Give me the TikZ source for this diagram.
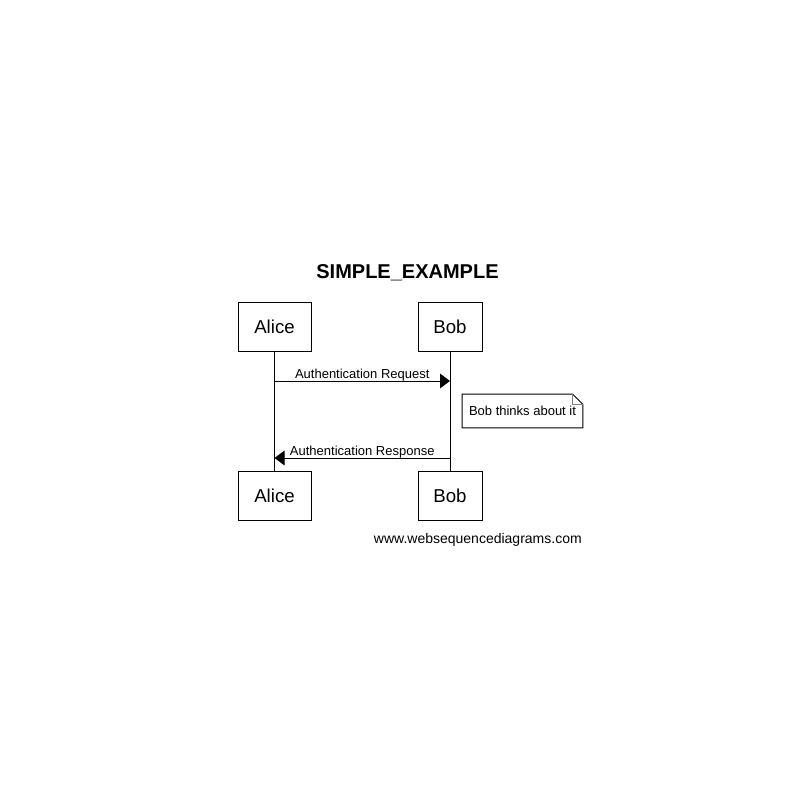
\documentclass[tikz,border=0pt]{standalone}
\usepackage{fontspec}
\setmainfont{Liberation Sans}
\usetikzlibrary{arrows.meta}
\tikzset{
  actor/.style={draw,line width=0.75pt,inner sep=0pt,minimum height=36.75pt,font=\fontsize{14}{16}\selectfont},
  msg/.style={line width=0.75pt,-{Triangle[length=7.5pt,width=11pt]}},
  msglabel/.style={anchor=south,inner sep=0pt,yshift=-0.5pt,font=\fontsize{9.75}{11}\selectfont},
  notebox/.style={inner sep=0pt,minimum width=90pt,minimum height=24.75pt,font=\fontsize{9.75}{11}\selectfont}
}
\begin{document}
\begin{tikzpicture}[line cap=butt,line join=miter,x=0.75pt,y=-0.75pt]
    \useasboundingbox (0,0) rectangle (800,800);
    \node[anchor=base,font=\bfseries\fontsize{15}{18}\selectfont] (title) at (407.5,278) {SIMPLE\_EXAMPLE};
    \node[actor,minimum width=54.75pt] (aliceTop) at (274.5,326.5) {Alice};
    \node[actor,minimum width=48pt] (bobTop) at (450,326.5) {Bob};
    \node[actor,minimum width=54.75pt] (aliceBot) at (274.5,495.5) {Alice};
    \node[actor,minimum width=48pt] (bobBot) at (450,495.5) {Bob};
    \draw [line width=0.75pt] (aliceTop) -- (aliceBot);
    \draw [line width=0.75pt] (bobTop) -- (bobBot);
    \coordinate (reqA) at (274.5,381);
    \coordinate (reqB) at (450,381);
    \draw [msg] (reqA) -- node[msglabel] {Authentication Request} (reqB);
    \node[notebox] (think) at (522.5,411) {Bob thinks about it};
    \draw [line width=0.75pt] (think.north west) -- ([xshift=-7.5pt]think.north east) -- ([yshift=-7.5pt]think.north east) -- (think.south east) -- (think.south west) -- cycle;
    \draw [line width=0.75pt,gray] ([xshift=-7.5pt]think.north east) |- ([yshift=-7.5pt]think.north east);
    \coordinate (resB) at (450,458);
    \coordinate (resA) at (274.5,458);
    \draw [msg] (resB) -- node[msglabel] {Authentication Response} (resA);
    \node[anchor=base east,inner sep=0pt,font=\fontsize{10.5}{12}\selectfont] (credit) at (582,543) {www.websequencediagrams.com};
\end{tikzpicture}
\end{document}
